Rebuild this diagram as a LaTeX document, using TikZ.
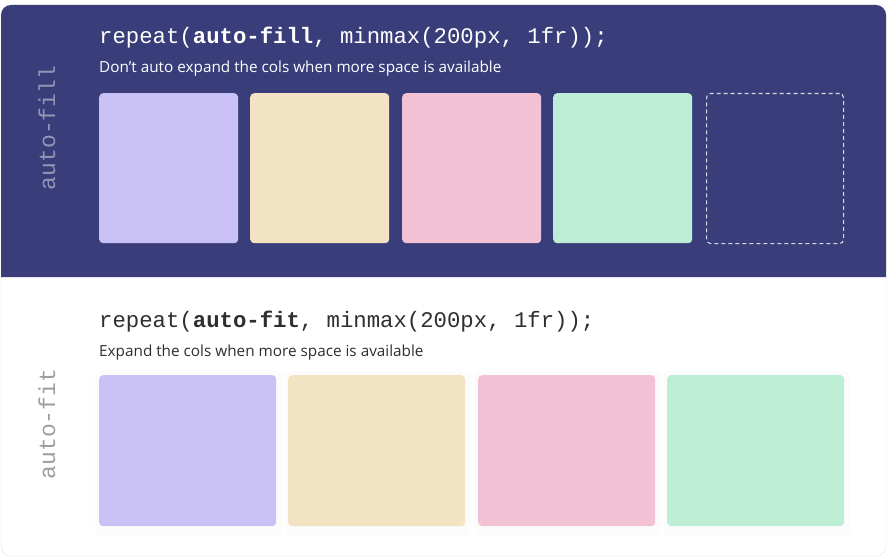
\documentclass[tikz,border=0pt]{standalone}
\usepackage{fontspec}
\setmainfont{Open Sans}
\setmonofont{Liberation Mono}
\definecolor{gridbg}{HTML}{393E7A}
\definecolor{lilac}{HTML}{C9C1F5}
\definecolor{sand}{HTML}{F2E4C3}
\definecolor{blush}{HTML}{F2C1D3}
\definecolor{mint}{HTML}{BBEED5}
\definecolor{inkdark}{HTML}{2E2E33}
\begin{document}
\begin{tikzpicture}
	[
	x=1pt, y=-1pt,
	cell/.style={rectangle, rounded corners=4pt, inner sep=0pt, anchor=north west},
	ghost/.style={cell, draw=white!80!gridbg, line width=1.1pt, dash pattern=on 4pt off 3pt},
	code/.style={anchor=base west, inner sep=0pt, font=\ttfamily\fontsize{22.3}{26}\selectfont},
	note/.style={anchor=base west, inner sep=0pt, font=\fontsize{15.3}{18}\selectfont},
	side/.style={anchor=base, inner sep=0pt, rotate=90, font=\ttfamily\fontsize{23}{26}\selectfont}
	]
		\useasboundingbox (0,0) rectangle (888,559);
		
		% card
		\draw [black!12, fill=white, rounded corners=10pt] (1,5) rectangle (886,556);
		\fill [gridbg] (1,277) [rounded corners=10pt] -- (1,5) -- (886,5) [sharp corners] -- (886,277) -- cycle;
		
		% auto-fill
		\node (fillside) [side, text=white!45!gridbg] at (55,128) {auto-fill};
		\node (filltitle) [code, text=white] at (99,44) {repeat(\textbf{auto-fill}, minmax(200px, 1fr));};
		\node (fillnote) [note, text=white] at (99,73) {Don’t auto expand the cols when more space is available};
		
		\foreach \x/\c/\n in {99/lilac/fa, 250/sand/fb, 402/blush/fc, 553/mint/fd}
			\node (\n) [cell, fill=\c, minimum width=139pt, minimum height=150pt] at (\x,93) {};
		\node (fe) [ghost, minimum width=137pt, minimum height=150pt] at (706,93) {};
		
		% auto-fit
		\node (fitside) [side, text=black!38] at (55,424) {auto-fit};
		\node (fittitle) [code, text=inkdark] at (99,327) {repeat(\textbf{auto-fit}, minmax(200px, 1fr));};
		\node (fitnote) [note, text=inkdark] at (99,356) {Expand the cols when more space is available};
		
		\foreach \x/\c/\n in {99/lilac/ta, 288/sand/tb, 478/blush/tc, 667/mint/td}
		{
			\fill [black!1, rounded corners=6pt] (\x-4,371) rectangle (\x+183,536);
			\node (\n) [cell, fill=\c, minimum width=177pt, minimum height=151pt] at (\x,375) {};
		}
	\end{tikzpicture}
\end{document}
